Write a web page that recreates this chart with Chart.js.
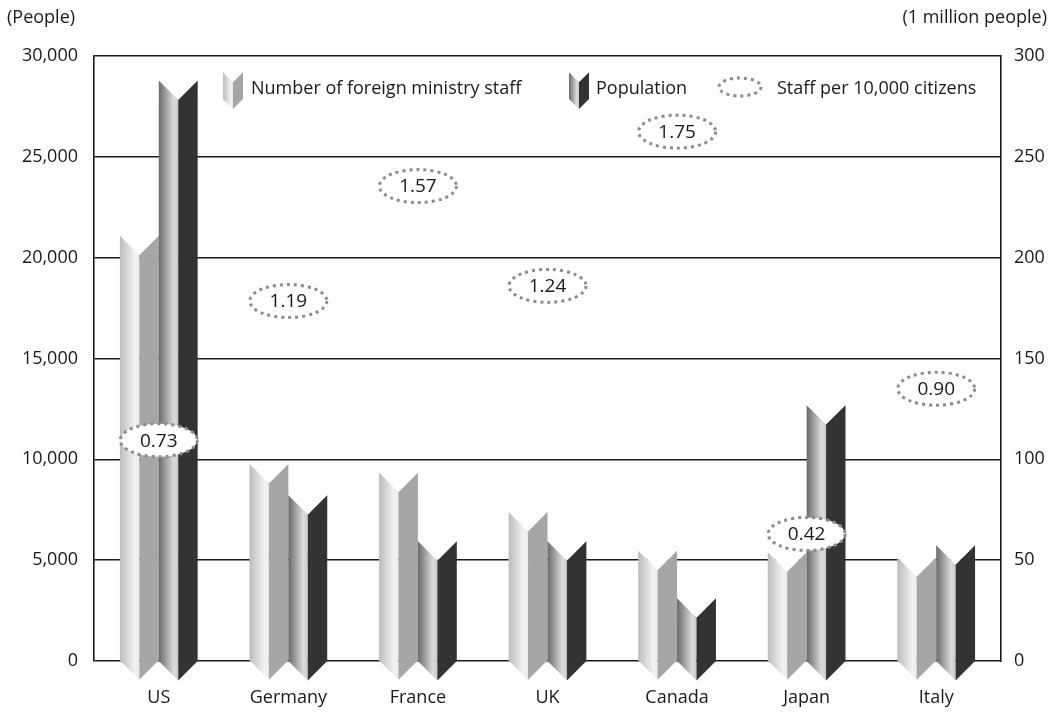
<!DOCTYPE html>
<html>
<head>
<meta charset="utf-8">
<script src="https://cdn.jsdelivr.net/npm/chart.js@4/dist/chart.umd.min.js"></script>
<style>
  html, body { margin: 0; padding: 0; background: #ffffff; }
  #wrap { position: relative; width: 1056px; height: 712px; }
</style>
</head>
<body>
<div id="wrap"><canvas id="chart" width="1056" height="712"></canvas></div>
<script>
// Foreign ministry staffing compared across seven countries
const countries = ['US', 'Germany', 'France', 'UK', 'Canada', 'Japan', 'Italy'];
const staff = [21100, 9780, 9350, 7400, 5480, 5400, 5150];          // people (left axis)
const population = [288, 82.3, 59.5, 59.5, 31.2, 127, 57.5];         // million people (right axis)
const staffPerTenThousand = [0.73, 1.19, 1.57, 1.24, 1.75, 0.42, 0.90];
const ratioLabels = ['0.73', '1.19', '1.57', '1.24', '1.75', '0.42', '0.90'];
const leftTicks = [0, 5000, 10000, 15000, 20000, 25000, 30000];
const rightTicks = [0, 50, 100, 150, 200, 250, 300];

const FONT = '"Open Sans", sans-serif';
const TEXT = '#1a1a1a';

// Face colours for the prism-shaped bars
const prismStyles = [
  { light: ['#bcbcbc', '#f3f3f3', '#e9e9e9'], dark: '#a6a6a6' },
  { light: ['#6a6a6a', '#dcdcdc', '#c9c9c9'], dark: '#333333' }
];

function drawPrism(ctx, L, R, T, B, style) {
  const cx = (L + R) / 2;
  const h = (R - L) / 2;
  const g = ctx.createLinearGradient(L, 0, cx, 0);
  g.addColorStop(0, style.light[0]);
  g.addColorStop(0.78, style.light[1]);
  g.addColorStop(1, style.light[2]);
  // left face
  ctx.beginPath();
  ctx.moveTo(L, T); ctx.lineTo(cx, T + h); ctx.lineTo(cx, B + h); ctx.lineTo(L, B);
  ctx.closePath();
  ctx.fillStyle = g; ctx.fill();
  // right face
  ctx.beginPath();
  ctx.moveTo(cx, T + h); ctx.lineTo(R, T); ctx.lineTo(R, B); ctx.lineTo(cx, B + h);
  ctx.closePath();
  ctx.fillStyle = style.dark; ctx.fill();
  // white top notch
  ctx.beginPath();
  ctx.moveTo(L, T); ctx.lineTo(R, T); ctx.lineTo(cx, T + h);
  ctx.closePath();
  ctx.fillStyle = '#ffffff'; ctx.fill();
}

function drawDottedEllipse(ctx, x, y, rx, ry, fill) {
  ctx.save();
  ctx.beginPath();
  ctx.ellipse(x, y, rx, ry, 0, 0, Math.PI * 2);
  if (fill) { ctx.fillStyle = '#ffffff'; ctx.fill(); }
  ctx.setLineDash([3, 4]);
  ctx.lineWidth = 3;
  ctx.strokeStyle = '#8c8c8c';
  ctx.stroke();
  ctx.restore();
}

const prismPlugin = {
  id: 'prisms',
  afterDatasetsDraw(chart) {
    const ctx = chart.ctx;
    ctx.save();
    [0, 1].forEach(di => {
      chart.getDatasetMeta(di).data.forEach(bar => {
        const p = bar.getProps(['x', 'y', 'base', 'width'], true);
        drawPrism(ctx, p.x - p.width / 2, p.x + p.width / 2, p.y, p.base, prismStyles[di]);
      });
    });
    // ratio bubbles
    const meta = chart.getDatasetMeta(2);
    meta.data.forEach((pt, i) => {
      drawDottedEllipse(ctx, pt.x, pt.y, 38.5, 16.5, true);
      ctx.fillStyle = TEXT;
      ctx.font = '19px ' + FONT;
      ctx.textAlign = 'center';
      ctx.textBaseline = 'middle';
      ctx.fillText(ratioLabels[i], pt.x, pt.y + 1);
    });
    ctx.restore();
  },
  afterDraw(chart) {
    const ctx = chart.ctx;
    ctx.save();
    ctx.font = '18px ' + FONT;
    ctx.fillStyle = TEXT;
    ctx.textBaseline = 'middle';
    // axis titles
    ctx.textAlign = 'left';
    ctx.fillText('(People)', 7, 18);
    ctx.textAlign = 'right';
    ctx.fillText('(1 million people)', 1047, 18);
    // legend
    ctx.textAlign = 'left';
    drawPrism(ctx, 223, 243, 72, 99, prismStyles[0]);
    ctx.fillStyle = TEXT;
    ctx.fillText('Number of foreign ministry staff', 251, 89);
    drawPrism(ctx, 569, 589, 72, 99, prismStyles[1]);
    ctx.fillStyle = TEXT;
    ctx.fillText('Population', 596, 89);
    drawDottedEllipse(ctx, 740, 87, 21, 9, false);
    ctx.fillStyle = TEXT;
    ctx.fillText('Staff per 10,000 citizens', 777, 89);
    ctx.restore();
  }
};

const chart = new Chart(document.getElementById('chart'), {
  data: {
    labels: countries,
    datasets: [
      { type: 'bar', label: 'Number of foreign ministry staff', data: staff, yAxisID: 'y',
        backgroundColor: 'rgba(0,0,0,0)', borderWidth: 0, categoryPercentage: 0.6, barPercentage: 1.0, order: 2 },
      { type: 'bar', label: 'Population', data: population, yAxisID: 'y2',
        backgroundColor: 'rgba(0,0,0,0)', borderWidth: 0, categoryPercentage: 0.6, barPercentage: 1.0, order: 2 },
      { type: 'line', label: 'Staff per 10,000 citizens', data: staffPerTenThousand, yAxisID: 'yRatio',
        showLine: false, pointRadius: 0, pointHoverRadius: 0, order: 1 }
    ]
  },
  options: {
    responsive: false,
    animation: false,
    events: [],
    layout: { padding: { left: 0, right: 0, top: 56, bottom: 0 } },
    plugins: { legend: { display: false }, tooltip: { enabled: false } },
    scales: {
      x: {
        grid: { display: false, drawTicks: false },
        border: { display: false },
        ticks: { color: TEXT, font: { family: FONT, size: 18 }, padding: 26, maxRotation: 0 },
        afterFit(s) { s.height = 51; }
      },
      y: {
        position: 'left', min: 0, max: 30000,
        afterBuildTicks(s) { s.ticks = leftTicks.map(v => ({ value: v })); },
        grid: { color: '#1a1a1a', lineWidth: 1.6, drawTicks: false },
        border: { display: true, color: '#1a1a1a', width: 1.6 },
        ticks: { color: TEXT, font: { family: FONT, size: 18 }, padding: 16,
                 callback: v => v.toLocaleString('en-US') },
        afterFit(s) { s.width = 94; }
      },
      y2: {
        position: 'right', min: 0, max: 300,
        afterBuildTicks(s) { s.ticks = rightTicks.map(v => ({ value: v })); },
        grid: { display: false, drawTicks: false },
        border: { display: true, color: '#1a1a1a', width: 1.6 },
        ticks: { color: TEXT, font: { family: FONT, size: 18 }, padding: 13 },
        afterFit(s) { s.width = 55; }
      },
      yRatio: { display: false, min: 0, max: 2 }
    }
  },
  plugins: [prismPlugin]
});
</script>
</body>
</html>
